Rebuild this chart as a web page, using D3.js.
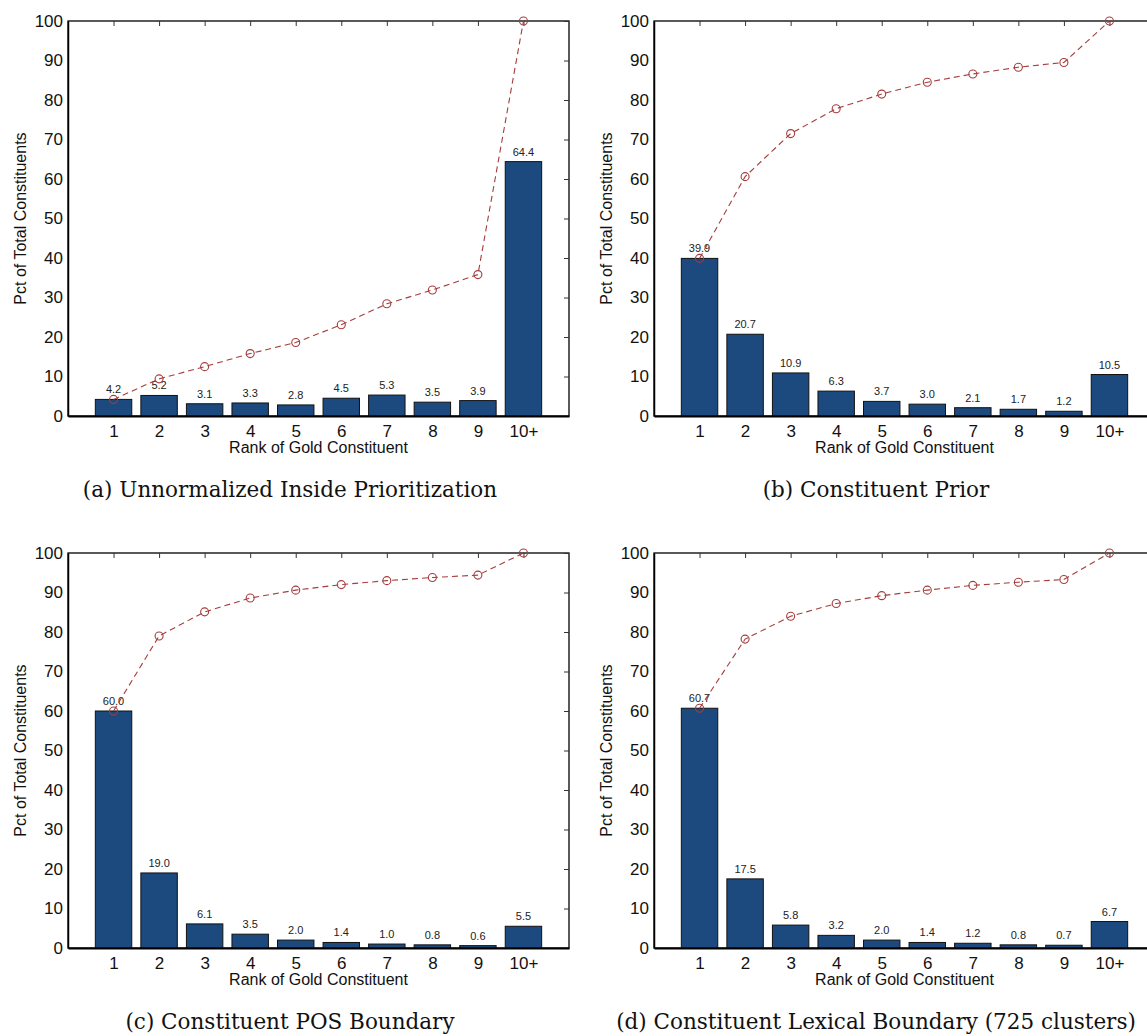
<!DOCTYPE html>
<html>
<head>
<meta charset="utf-8">
<script src="https://cdn.jsdelivr.net/npm/d3@7"></script>
<style>
  body { margin: 0; background: #fff; }
  svg { display: block; }
  .tick text { font-family: "Liberation Sans", Arial, sans-serif; }
</style>
</head>
<body>
<svg id="chart" width="1147" height="1036"></svg>
<script>
// ranks on the x axis
const ranks = ["1", "2", "3", "4", "5", "6", "7", "8", "9", "10+"];
const yTicks = [0, 10, 20, 30, 40, 50, 60, 70, 80, 90, 100];

// bar values (pct of gold constituents at each rank)
const pctA = [4.2, 5.2, 3.1, 3.3, 2.8, 4.5, 5.3, 3.5, 3.9, 64.4];
const pctB = [39.9, 20.7, 10.9, 6.3, 3.7, 3.0, 2.1, 1.7, 1.2, 10.5];
const pctC = [60.0, 19.0, 6.1, 3.5, 2.0, 1.4, 1.0, 0.8, 0.6, 5.5];
const pctD = [60.7, 17.5, 5.8, 3.2, 2.0, 1.4, 1.2, 0.8, 0.7, 6.7];

// cumulative line
const cumA = [4.2, 9.4, 12.5, 15.8, 18.6, 23.1, 28.4, 31.9, 35.8, 100];
const cumB = [39.9, 60.6, 71.5, 77.8, 81.5, 84.5, 86.6, 88.3, 89.5, 100];
const cumC = [60.0, 79.0, 85.1, 88.6, 90.6, 92.0, 93.0, 93.8, 94.4, 100];
const cumD = [60.7, 78.2, 84.0, 87.2, 89.2, 90.6, 91.8, 92.6, 93.3, 100];

const captions = [
  "(a) Unnormalized Inside Prioritization",
  "(b) Constituent Prior",
  "(c) Constituent POS Boundary",
  "(d) Constituent Lexical Boundary (725 clusters)"
];

const panels = [
  { left: 68,  top: 21,  bars: pctA, cum: cumA, caption: captions[0], capX: 290, capY: 497 },
  { left: 654, top: 21,  bars: pctB, cum: cumB, caption: captions[1], capX: 876, capY: 497 },
  { left: 68,  top: 553, bars: pctC, cum: cumC, caption: captions[2], capX: 290, capY: 1029 },
  { left: 654, top: 553, bars: pctD, cum: cumD, caption: captions[3], capX: 876, capY: 1029 }
];

const W = 501, H = 395;
const barColor = "#1c4a7e";
const lineColor = "#a63c3c";

const svg = d3.select("#chart");

panels.forEach(p => {
  const g = svg.append("g").attr("transform", `translate(${p.left},${p.top})`);

  const x = d3.scaleLinear().domain([0, 11]).range([0, W]);
  const y = d3.scaleLinear().domain([0, 100]).range([H, 0]);

  // box
  g.append("rect")
   .attr("width", W).attr("height", H)
   .attr("fill", "none").attr("stroke", "#000").attr("stroke-width", 1.3);

  // inward ticks on top and right
  g.append("g")
   .call(d3.axisTop(x).tickValues(d3.range(1, 11)).tickSize(-5).tickFormat(""))
   .call(a => a.select(".domain").remove())
   .selectAll("line").attr("stroke", "#333");
  g.append("g").attr("transform", `translate(${W},0)`)
   .call(d3.axisRight(y).tickValues(yTicks).tickSize(-5).tickFormat(""))
   .call(a => a.select(".domain").remove())
   .selectAll("line").attr("stroke", "#333");

  // bars
  g.selectAll("rect.bar")
   .data(p.bars)
   .enter().append("rect")
   .attr("class", "bar")
   .attr("x", (d, i) => x(i + 1 - 0.4))
   .attr("y", d => y(d))
   .attr("width", x(0.8) - x(0))
   .attr("height", d => H - y(d))
   .attr("fill", barColor)
   .attr("stroke", "#111")
   .attr("stroke-width", 1);

  // bar value labels
  g.selectAll("text.val")
   .data(p.bars)
   .enter().append("text")
   .attr("class", "val")
   .attr("x", (d, i) => x(i + 1))
   .attr("y", d => y(d) - 6)
   .attr("text-anchor", "middle")
   .attr("font-family", "Liberation Sans, Arial, sans-serif")
   .attr("font-size", 11)
   .attr("fill", "#222")
   .text(d => d.toFixed(1));

  // cumulative dashed line with circle markers
  const line = d3.line().x((d, i) => x(i + 1)).y(d => y(d));
  g.append("path")
   .datum(p.cum)
   .attr("d", line)
   .attr("fill", "none")
   .attr("stroke", lineColor)
   .attr("stroke-width", 1.1)
   .attr("stroke-dasharray", "6,4");
  g.selectAll("circle.cum")
   .data(p.cum)
   .enter().append("circle")
   .attr("class", "cum")
   .attr("cx", (d, i) => x(i + 1))
   .attr("cy", d => y(d))
   .attr("r", 4)
   .attr("fill", "none")
   .attr("stroke", lineColor)
   .attr("stroke-width", 1.1);

  // bottom axis
  g.append("g").attr("transform", `translate(0,${H})`)
   .call(d3.axisBottom(x).tickValues(d3.range(1, 11)).tickSize(0).tickPadding(9)
         .tickFormat((d, i) => ranks[i]))
   .call(a => a.select(".domain").attr("stroke", "#000").attr("stroke-width", 2))
   .selectAll("text").attr("font-size", 17).attr("fill", "#111");

  // left axis
  g.append("g")
   .call(d3.axisLeft(y).tickValues(yTicks).tickSize(0).tickPadding(5))
   .call(a => a.select(".domain").attr("stroke", "#000").attr("stroke-width", 1.5))
   .selectAll("text").attr("font-size", 17).attr("fill", "#111");

  // axis titles
  g.append("text")
   .attr("x", W / 2).attr("y", H + 37)
   .attr("text-anchor", "middle")
   .attr("font-family", "Liberation Sans, Arial, sans-serif")
   .attr("font-size", 16).attr("fill", "#111")
   .text("Rank of Gold Constituent");
  g.append("text")
   .attr("transform", `translate(-42,${H / 2}) rotate(-90)`)
   .attr("text-anchor", "middle")
   .attr("font-family", "Liberation Sans, Arial, sans-serif")
   .attr("font-size", 16).attr("fill", "#111")
   .text("Pct of Total Constituents");

  // caption
  svg.append("text")
   .attr("x", p.capX).attr("y", p.capY)
   .attr("text-anchor", "middle")
   .attr("font-family", "DejaVu Serif, serif")
   .attr("font-size", 21.5).attr("fill", "#111")
   .text(p.caption);
});
</script>
</body>
</html>
